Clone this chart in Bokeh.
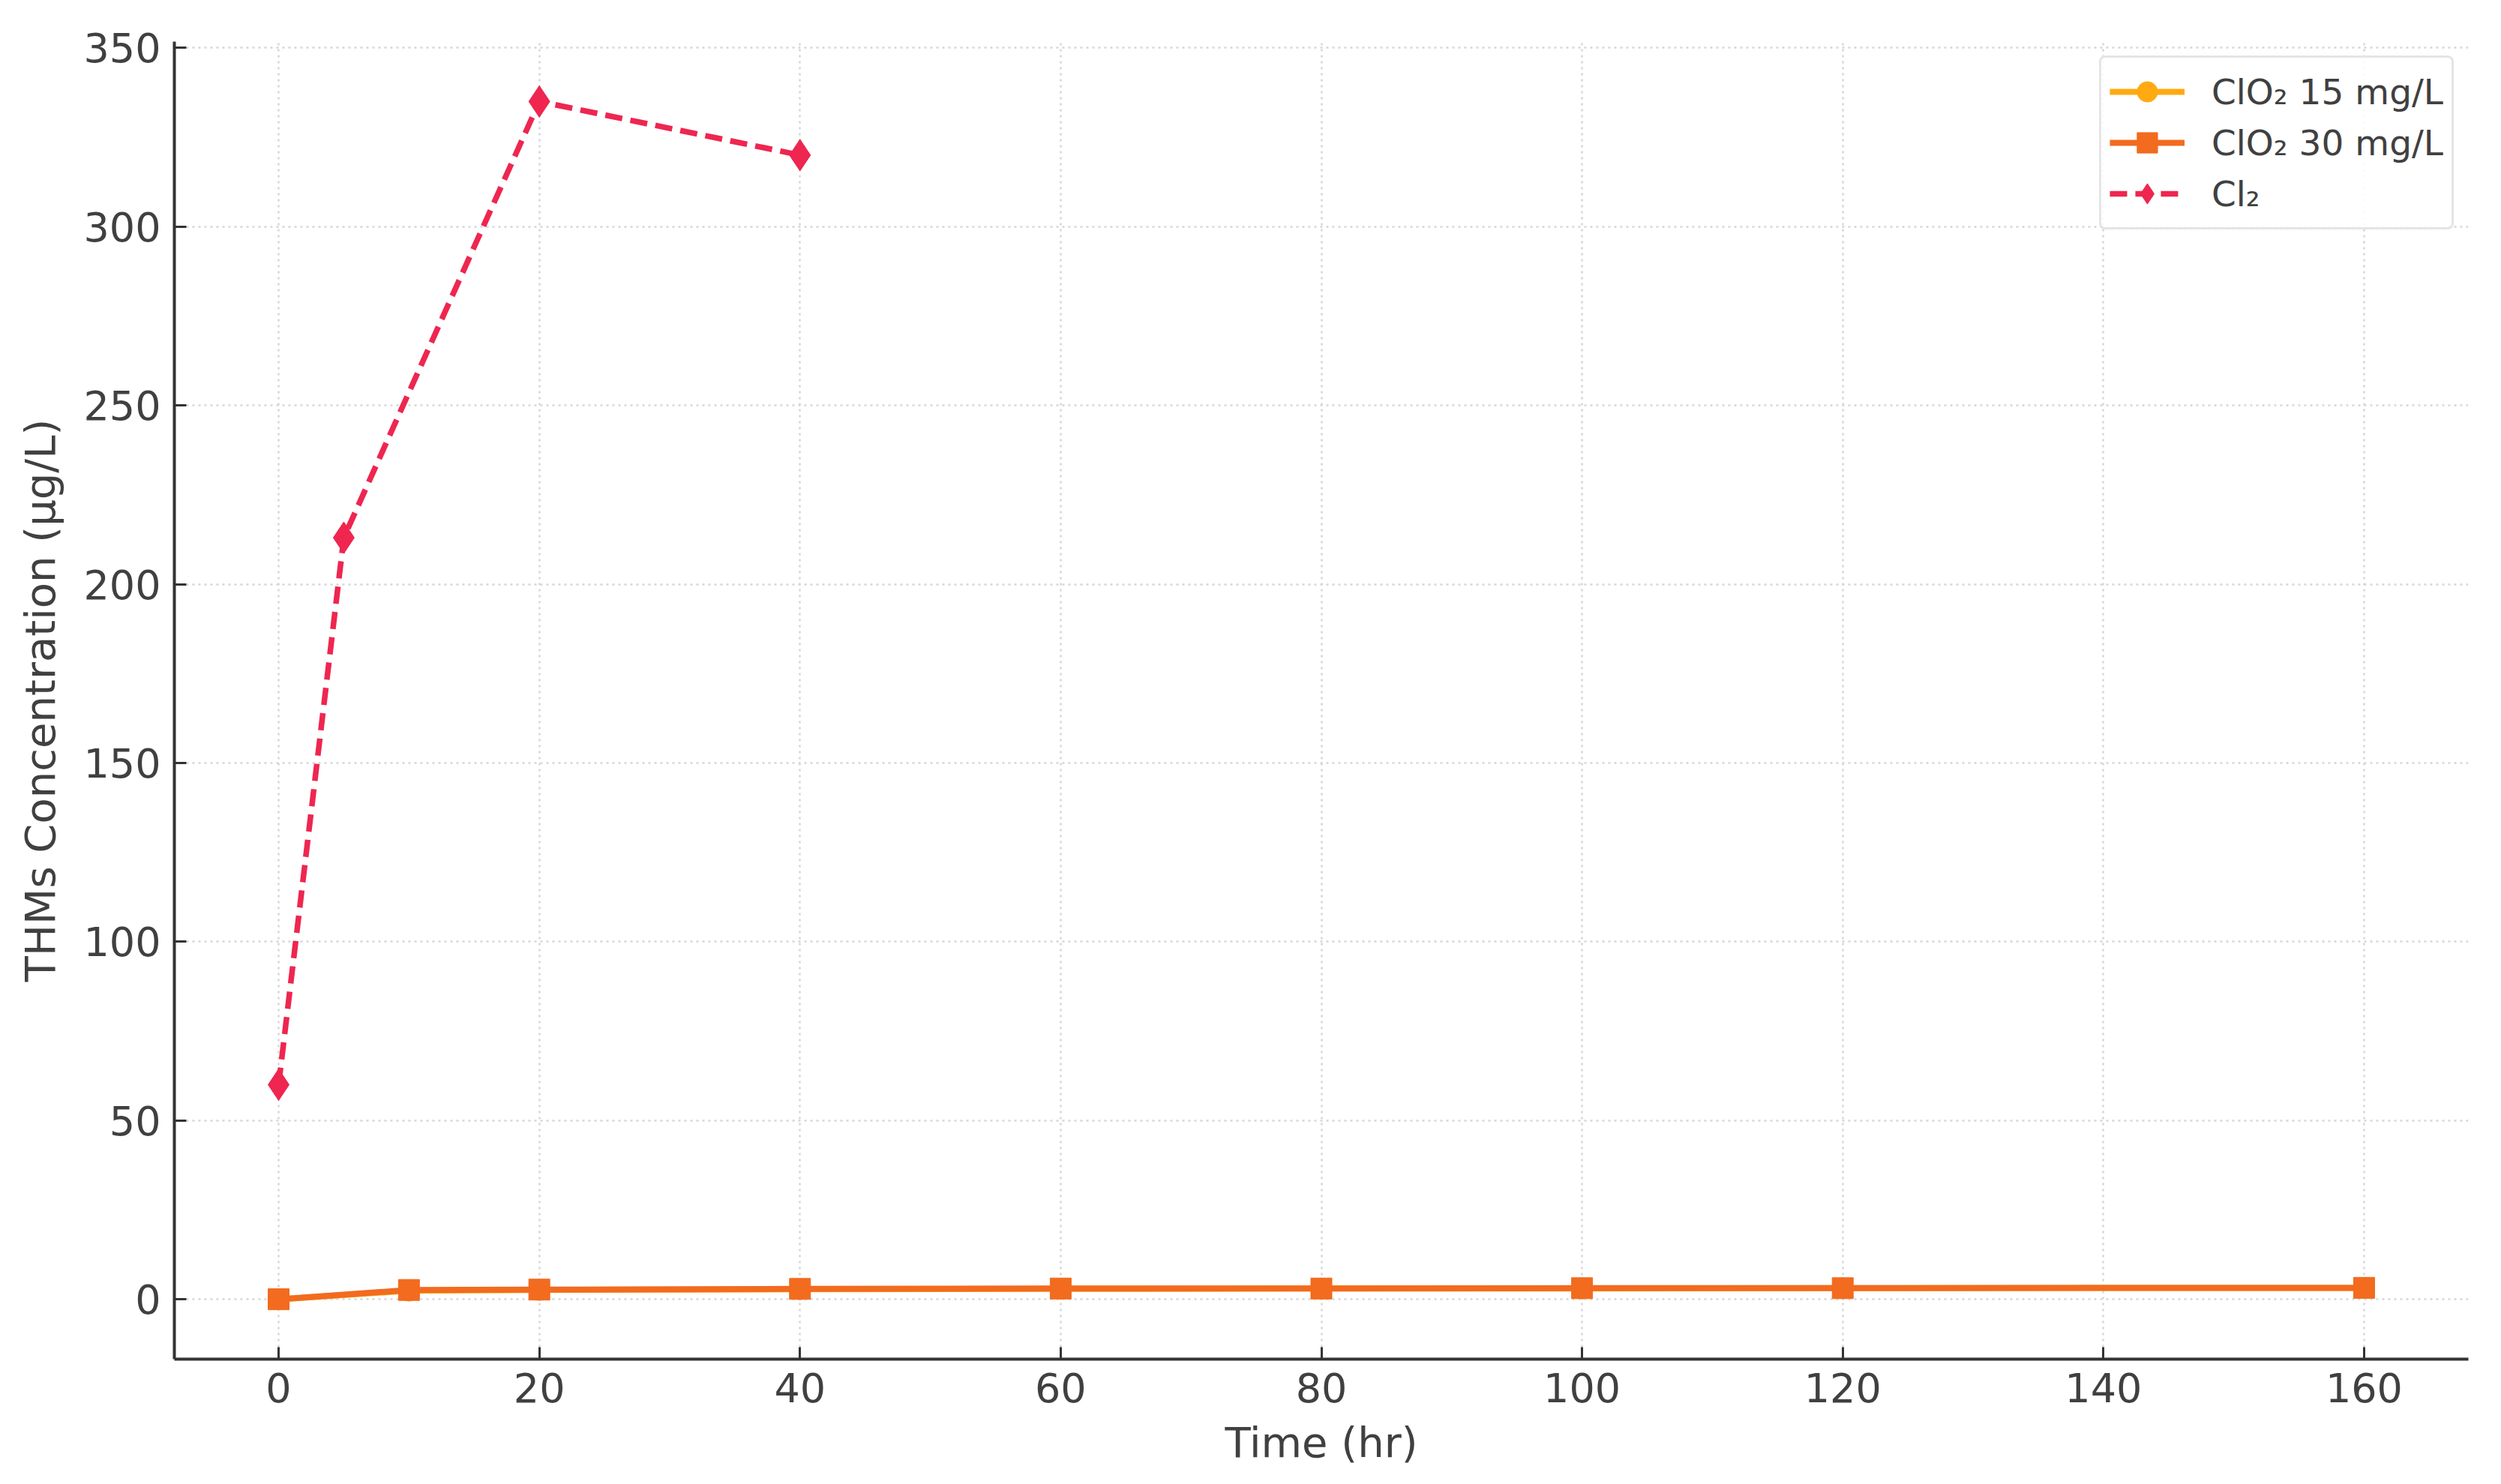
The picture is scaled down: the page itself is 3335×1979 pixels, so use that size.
from bokeh.plotting import figure
from bokeh.models import Range1d, FixedTicker, Legend, LegendItem
from bokeh.embed import file_html
from bokeh.resources import INLINE

# Data
time_clo2 = [0, 10, 20, 40, 60, 80, 100, 120, 160]
clo2_15 = [0.0, 2.4, 2.6, 2.8, 2.9, 3.0, 3.0, 3.1, 3.2]
clo2_30 = [0.0, 2.6, 2.7, 2.9, 3.0, 3.0, 3.1, 3.1, 3.2]
time_cl2 = [0, 5, 20, 40]
cl2 = [60, 213, 335, 320]

x_ticks = [0, 20, 40, 60, 80, 100, 120, 140, 160]
y_ticks = [0, 50, 100, 150, 200, 250, 300, 350]

labels = ["ClO\u2082 15 mg/L", "ClO\u2082 30 mg/L", "Cl\u2082"]
colors = ["#FFAA11", "#F26B1F", "#EE2650"]

FONT = "DejaVu Sans"
TXT = "#404040"

p = figure(width=3319, height=1963,
           x_range=Range1d(-8, 168), y_range=Range1d(-16.75, 351.75),
           output_backend="svg", toolbar_location=None,
           min_border_left=232, min_border_right=28,
           min_border_top=55, min_border_bottom=151)
p.outline_line_color = None
p.background_fill_color = "white"

# grid
for g in (p.xgrid, p.ygrid):
    g.grid_line_color = "#d6d6d6"
    g.grid_line_dash = "3 5"
    g.grid_line_width = 2.5
p.xgrid.ticker = FixedTicker(ticks=x_ticks)
p.ygrid.ticker = FixedTicker(ticks=y_ticks)

# axes
p.xaxis.ticker = FixedTicker(ticks=x_ticks)
p.yaxis.ticker = FixedTicker(ticks=y_ticks)
for ax in (p.xaxis[0], p.yaxis[0]):
    ax.axis_line_color = "#333333"
    ax.axis_line_width = 4
    ax.major_tick_in = 16
    ax.major_tick_out = 0
    ax.major_tick_line_width = 3
    ax.major_tick_line_color = "#333333"
    ax.minor_tick_line_color = None
    ax.major_label_text_font = FONT
    ax.major_label_text_font_size = "54px"
    ax.major_label_text_color = TXT
    ax.axis_label_text_font = FONT
    ax.axis_label_text_font_size = "56px"
    ax.axis_label_text_font_style = "normal"
    ax.axis_label_text_color = TXT

p.xaxis.axis_label = "Time (hr)"
p.yaxis.axis_label = "THMs Concentration (\u00b5g/L)"
p.xaxis.major_label_standoff = 18
p.xaxis.axis_label_standoff = 18
p.yaxis.major_label_standoff = 18
p.yaxis.axis_label_standoff = 22

# series
l1 = p.line(time_clo2, clo2_15, line_color=colors[0], line_width=8)
m1 = p.scatter(time_clo2, clo2_15, marker="circle", size=28,
               fill_color=colors[0], line_color=colors[0])
l2 = p.line(time_clo2, clo2_30, line_color=colors[1], line_width=8)
m2 = p.scatter(time_clo2, clo2_30, marker="square", size=28,
               fill_color=colors[1], line_color=colors[1])
l3 = p.line(time_cl2, cl2, line_color=colors[2], line_width=7.5,
            line_dash="23 11")
m3 = p.scatter(time_cl2, cl2, marker="diamond", size=42,
               fill_color=colors[2], line_color=colors[2])

legend = Legend(items=[
    LegendItem(label=labels[0], renderers=[l1, m1]),
    LegendItem(label=labels[1], renderers=[l2, m2]),
    LegendItem(label=labels[2], renderers=[l3, m3]),
], location="top_right")
legend.margin = 19
legend.padding = 11
legend.spacing = 0
legend.glyph_width = 100
legend.glyph_height = 68
legend.label_height = 68
legend.label_standoff = 36
legend.label_text_font = FONT
legend.label_text_font_size = "47px"
legend.label_text_color = TXT
legend.border_line_color = "#cccccc"
legend.border_line_width = 3
legend.border_radius = 8
legend.background_fill_color = "white"
legend.background_fill_alpha = 0.85
p.add_layout(legend, "center")

open("out.html", "w").write(file_html(p, INLINE))
